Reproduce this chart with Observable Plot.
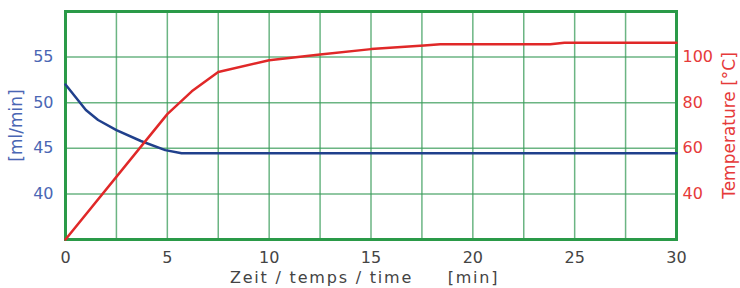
<!DOCTYPE html>
<html><head><meta charset="utf-8">
<script src="https://cdn.jsdelivr.net/npm/d3@7"></script>
<script src="https://cdn.jsdelivr.net/npm/@observablehq/plot@0.6"></script>
<style>body{margin:0;background:#fff}</style>
</head><body><div id="chart"></div>
<script>
// Flow rate [ml/min] (left axis)
const flowTime  = [0, 0.5, 1, 1.6, 2.5, 3.7, 4.9, 5.7, 30];
const flowValue = [52, 50.6, 49.2, 48.1, 47.0, 45.8, 44.8, 44.45, 44.45];
// Temperature [°C] (right axis)
const tempTime  = [0, 5, 6.2, 7.5, 10, 12.5, 15, 17.6, 18.4, 23.8, 24.5, 30];
const tempValue = [20, 75, 85, 93.5, 98.6, 101.1, 103.5, 105.1, 105.6, 105.6, 106.3, 106.3];
// Ticks and grid
const xTicks = [0, 5, 10, 15, 20, 25, 30];
const flowTicks = [40, 45, 50, 55];
const tempTicks = [40, 60, 80, 100];
const xGrid = [0, 2.5, 5, 7.5, 10, 12.5, 15, 17.5, 20, 22.5, 25, 27.5, 30];
const yGrid = [35, 40, 45, 50, 55, 60];

const toLeft = t => 35 + (t - 20) / 4;
const fromLeft = v => 20 + (v - 35) * 4;
const flow = flowTime.map((t, i) => ({t, v: flowValue[i]}));
const temp = tempTime.map((t, i) => ({t, v: toLeft(tempValue[i])}));

const blueText = "#4a66b4", redText = "#e63a3a", grayText = "#444";

const chart = Plot.plot({
  width: 740, height: 288,
  marginLeft: 65, marginRight: 64, marginTop: 11, marginBottom: 49,
  style: {fontFamily: "'DejaVu Sans', Verdana, sans-serif", fontSize: "16px", background: "#fff"},
  x: {domain: [0, 30]},
  y: {domain: [35, 60]},
  marks: [
    Plot.ruleX(xGrid, {stroke: "#3a9c5a", strokeOpacity: 0.75, strokeWidth: 1.5}),
    Plot.ruleY(yGrid, {stroke: "#3a9c5a", strokeOpacity: 0.75, strokeWidth: 1.5}),
    Plot.frame({stroke: "#2a9a48", strokeWidth: 3}),
    Plot.axisX(xTicks, {tickSize: 0, tickPadding: 12, fill: grayText, label: null}),
    Plot.axisY(flowTicks, {anchor: "left", tickSize: 0, tickPadding: 12, fill: blueText, label: null}),
    Plot.axisY(tempTicks.map(toLeft), {anchor: "right", tickSize: 0, tickPadding: 6, tickFormat: v => fromLeft(v), fill: redText, label: null}),
    Plot.line(flow, {x: "t", y: "v", stroke: "#20408c", strokeWidth: 2.5}),
    Plot.line(temp, {x: "t", y: "v", stroke: "#e02828", strokeWidth: 2.5}),
    Plot.text(["[ml/min]"], {text: d => d, frameAnchor: "left", textAnchor: "middle", lineAnchor: "middle", rotate: -90, dx: -49, fontSize: 17, fill: blueText}),
    Plot.text(["Temperature [°C]"], {text: d => d, frameAnchor: "right", textAnchor: "middle", lineAnchor: "middle", rotate: -90, dx: 53, fontSize: 17, fill: redText}),
    Plot.text(["Zeit / temps / time"], {text: d => d, frameAnchor: "bottom", textAnchor: "middle", lineAnchor: "middle", dx: -49.5, dy: 38, fill: grayText, fontSize: 16, style: "letter-spacing:1.8px"}),
    Plot.text(["[min]"], {text: d => d, frameAnchor: "bottom", textAnchor: "middle", lineAnchor: "middle", dx: 102.5, dy: 38, fill: grayText, fontSize: 16})
  ]
});
chart.querySelectorAll("text").forEach(t => {
  if (t.textContent === "Zeit / temps / time" || t.textContent === "[min]") t.style.letterSpacing = "1.8px";
});
document.getElementById("chart").append(chart);
</script>
</body></html>
